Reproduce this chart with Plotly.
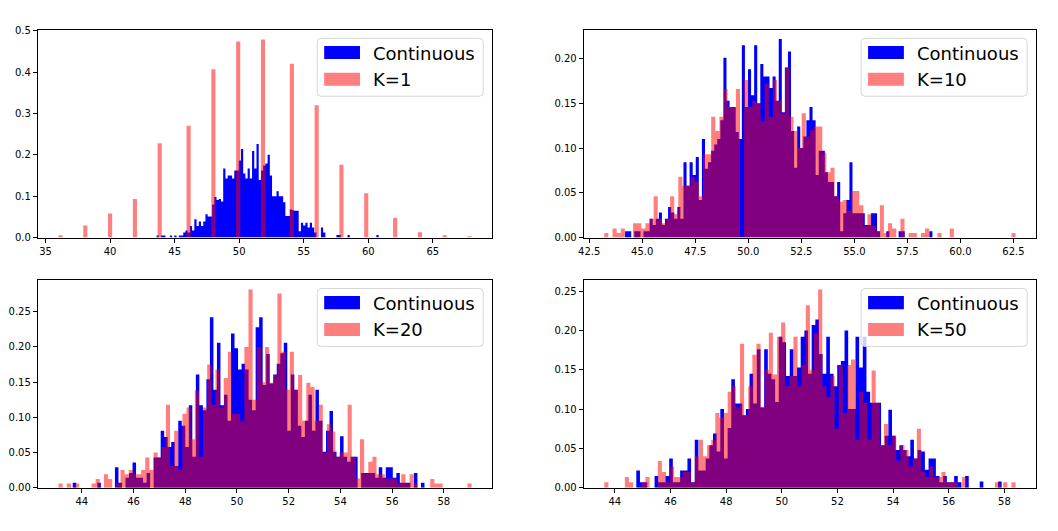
import numpy as np
import plotly.graph_objects as go

W, H = 1058, 531

# --- data: density heights of 100-bin histograms ---

# K=1: the sample means only take even values, so keep them as points
k1_vals = [36, 38, 40, 42, 44, 46, 48, 50, 52, 54, 56, 58, 60, 62, 64, 66, 68]
k1_dens = [0.0055, 0.029, 0.058, 0.093, 0.228, 0.270, 0.407, 0.474, 0.479,
           0.420, 0.320, 0.176, 0.107, 0.048, 0.013, 0.0055, 0.003]
k1_lim = (36.0, 68.0)

cont1 = [0.005, 0, 0.005, 0.005, 0, 0, 0.005, 0, 0.005, 0,
         0.005, 0.005, 0.012, 0.017, 0.012, 0.028, 0.017, 0.044, 0.028, 0.039,
         0.028, 0.039, 0.056, 0.051, 0.051, 0.080, 0.098, 0.091, 0.093, 0.087,
         0.167, 0.143, 0.150, 0.150, 0.143, 0.162, 0.162, 0.186, 0.214, 0.155,
         0.143, 0.167, 0.143, 0.209, 0.167, 0.226, 0.139, 0.162, 0.174, 0.179,
         0.200, 0.150, 0.100, 0.100, 0.112, 0.100, 0.100, 0.085, 0.052, 0.052,
         0.068, 0.066, 0.065, 0.065, 0.015, 0.036, 0.029, 0.036, 0.024, 0.036,
         0.024, 0.012, 0, 0, 0.024, 0.012, 0, 0, 0, 0,
         0, 0.006, 0.006, 0, 0, 0, 0.006, 0, 0, 0,
         0, 0, 0, 0, 0, 0, 0, 0, 0, 0.006]
cont1_lim = (43.6, 60.8)

k10 = [0.005, 0, 0.010, 0.005, 0.010, 0, 0, 0.016, 0.016, 0.010,
       0.016, 0.021, 0.046, 0.021, 0.016, 0.021, 0.046, 0.026, 0.068, 0.058,
       0.058, 0.068, 0.062, 0.046, 0.093, 0.093, 0.135, 0.119, 0.135, 0.166,
       0.146, 0.146, 0.166, 0, 0.176, 0.146, 0.153, 0.150, 0.130, 0.172,
       0.135, 0.176, 0.153, 0.139, 0.190, 0.135, 0.119, 0.100, 0.139, 0.113,
       0.120, 0.124, 0.124, 0.095, 0.073, 0.078, 0.046, 0.040, 0.042, 0.030,
       0.052, 0.052, 0.036, 0.013, 0.026, 0.013, 0.007, 0.036, 0.005, 0.016,
       0.010, 0, 0.021, 0, 0.005, 0.005, 0, 0.005, 0.010, 0,
       0, 0.005, 0, 0, 0.010, 0, 0, 0, 0, 0,
       0, 0, 0, 0, 0, 0, 0, 0, 0, 0.005]
k10_lim = (43.21, 62.6)

cont10 = [0.007, 0.007, 0, 0.007, 0.007, 0, 0.007, 0.007, 0.021, 0.014,
          0.021, 0.028, 0.014, 0.021, 0.034, 0.028, 0.021, 0.034, 0.021, 0.084,
          0.058, 0.084, 0.070, 0.090, 0.042, 0.110, 0.077, 0.084, 0.097, 0.104,
          0.110, 0.131, 0.201, 0.153, 0.146, 0.146, 0.118, 0.110, 0.215, 0.146,
          0.188, 0.159, 0.215, 0.150, 0.194, 0.180, 0.180, 0.167, 0.180, 0.153,
          0.222, 0.140, 0.190, 0.208, 0.119, 0.078, 0.124, 0.100, 0.113, 0.131,
          0.146, 0.131, 0.070, 0.097, 0.097, 0.073, 0.062, 0.062, 0.046, 0.062,
          0.007, 0.027, 0.042, 0.084, 0.027, 0.027, 0.027, 0.027, 0.014, 0.014,
          0.027, 0.027, 0.007, 0, 0, 0.007, 0, 0, 0, 0.007,
          0.007, 0, 0, 0, 0, 0, 0, 0, 0, 0.007]
cont10_lim = (44.19, 58.68)

k20 = [0.006, 0, 0.006, 0, 0.006, 0, 0, 0, 0.006, 0.0125,
       0, 0.019, 0.0125, 0, 0.006, 0.025, 0.019, 0.025, 0.019, 0.019,
       0.025, 0.043, 0.025, 0.050, 0.043, 0.058, 0.118, 0.031, 0.081, 0.025,
       0.105, 0.114, 0.069, 0.138, 0.044, 0.114, 0.175, 0.118, 0.168, 0.114,
       0.156, 0.193, 0.105, 0.105, 0.094, 0.200, 0.2815, 0.125, 0.200, 0.150,
       0.200, 0.149, 0.160, 0.276, 0.193, 0.139, 0.193, 0.139, 0.160, 0.095,
       0.149, 0.143, 0.095, 0.118, 0.050, 0.090, 0.080, 0.044, 0.050, 0.050,
       0.118, 0.044, 0.013, 0.069, 0.020, 0.037, 0.044, 0.019, 0.019, 0.013,
       0.013, 0.013, 0.006, 0.019, 0.006, 0.019, 0.006, 0, 0, 0,
       0.0125, 0.006, 0.006, 0, 0, 0, 0, 0, 0, 0.006]
k20_lim = (43.1, 59.07)

cont20 = [0.007, 0, 0, 0, 0, 0, 0, 0.007, 0, 0,
          0, 0, 0.029, 0.007, 0, 0.014, 0.021, 0.036, 0.014, 0.014,
          0.007, 0.021, 0, 0.043, 0.043, 0.081, 0.072, 0.058, 0.065, 0.031,
          0.095, 0.088, 0.058, 0.117, 0.044, 0.161, 0.117, 0.110, 0.154, 0.242,
          0.139, 0.206, 0.117, 0.132, 0.095, 0.219, 0.198, 0.168, 0.176, 0.168,
          0.125, 0.110, 0.228, 0.242, 0.146, 0.190, 0.148, 0.161, 0.176, 0.191,
          0.206, 0.081, 0.161, 0.139, 0.088, 0.072, 0.095, 0.132, 0.081, 0.139,
          0.095, 0.051, 0.081, 0.109, 0.051, 0.044, 0.073, 0.044, 0.037, 0.044,
          0.044, 0, 0.021, 0.021, 0.021, 0.021, 0.014, 0.029, 0.014, 0.029,
          0.029, 0.014, 0.021, 0.007, 0.007, 0.007, 0, 0.021, 0, 0.007]
cont20_lim = (43.65, 57.25)

k50 = [0.0068, 0, 0, 0, 0, 0.0135, 0.0068, 0, 0, 0.0068,
       0.0135, 0, 0, 0.034, 0.020, 0.007, 0.027, 0.0135, 0.0135, 0.020,
       0.020, 0.0068, 0.040, 0.061, 0.040, 0.054, 0.061, 0.095, 0.089, 0.095,
       0.122, 0.129, 0.102, 0.183, 0.092, 0.129, 0.169, 0.183, 0.103, 0.150,
       0.197, 0.144, 0.192, 0.210, 0.129, 0.142, 0.192, 0.129, 0.156, 0.232,
       0.150, 0.196, 0.252, 0.129, 0.115, 0.142, 0.075, 0.156, 0.095, 0.156,
       0.163, 0.061, 0.122, 0.108, 0.061, 0.149, 0.108, 0.054, 0.081, 0.054,
       0.066, 0.034, 0.054, 0.048, 0.027, 0.037, 0.075, 0.020, 0.0135, 0.027,
       0.0135, 0.0135, 0.020, 0.007, 0.007, 0.007, 0, 0.0135, 0, 0,
       0, 0, 0, 0, 0, 0.007, 0, 0.007, 0, 0.007]
k50_lim = (43.62, 58.4)

cont50 = [0.022, 0.007, 0.007, 0, 0, 0.015, 0.007, 0.007, 0.015, 0.037,
          0.007, 0.007, 0.022, 0.022, 0.037, 0.007, 0.061, 0.022, 0.022, 0.037,
          0.054, 0.069, 0.046, 0.100, 0.037, 0.076, 0.138, 0.107, 0.107, 0.092,
          0.100, 0.145, 0.107, 0.176, 0.102, 0.176, 0.145, 0.138, 0.109, 0.192,
          0.185, 0.142, 0.176, 0.142, 0.153, 0.192, 0.200, 0.145, 0.207, 0.214,
          0.170, 0.145, 0.192, 0.145, 0.129, 0.156, 0.161, 0.200, 0.100, 0.100,
          0.192, 0.153, 0.192, 0.122, 0.108, 0.108, 0.108, 0.054, 0.066, 0.099,
          0.066, 0.048, 0.054, 0.048, 0.040, 0.061, 0.037, 0.048, 0.046, 0.023,
          0.037, 0.037, 0.015, 0.007, 0.015, 0.007, 0.007, 0.015, 0.007, 0,
          0.015, 0, 0, 0, 0.008, 0, 0, 0, 0, 0.008]
cont50_lim = (44.77, 57.9)

NBINS = 100


def edges_of(lim):
    return np.linspace(lim[0], lim[1], NBINS + 1)


# spread the K=1 points into their histogram bins
e1 = edges_of(k1_lim)
w1 = e1[1] - e1[0]
k1 = np.zeros(NBINS)
idx = np.minimum(((np.array(k1_vals) - k1_lim[0]) / w1).astype(int), NBINS - 1)
k1[idx] = k1_dens

# panel: continuous, its limits, K-histogram, its limits, label, axes box in px, ranges
panels = [
    (cont1, cont1_lim, k1, k1_lim, "K=1", (32, 489, 26, 238), [34.4, 69.6], 0.503, 35, 5, ".0f", 0.1, ".1f"),
    (cont10, cont10_lim, k10, k10_lim, "K=10", (581, 1036, 26, 238), [42.24, 63.57], 0.2325, 42.5, 2.5, ".1f", 0.05, ".2f"),
    (cont20, cont20_lim, k20, k20_lim, "K=20", (32, 489, 281, 493), [42.3, 59.87], 0.2955, 44, 2, ".0f", 0.05, ".2f"),
    (cont50, cont50_lim, k50, k50_lim, "K=50", (581, 1036, 281, 493), [42.88, 59.14], 0.2645, 44, 2, ".0f", 0.05, ".2f"),
]

fig = go.Figure()
shapes = []
annotations = []


def px(x):
    return x / W


def py(y):
    return 1 - y / H


def hist_trace(heights, lim, fill, sfx, name):
    # one stepped polygon per histogram, so neighbouring bins leave no seams
    e = edges_of(lim)
    ys = list(heights) + [0]
    return go.Scatter(x=e, y=ys, mode="lines", line=dict(shape="hv", width=0, color=fill),
                      fill="tozeroy", fillcolor=fill, name=name, showlegend=False,
                      hoverinfo="skip", xaxis="x" + sfx, yaxis="y" + sfx)


for n, (cont, clim, kh, klim, label, box, xr, ytop, t0, dt, xf, ydt, yf) in enumerate(panels, start=1):
    sfx = "" if n == 1 else str(n)
    fig.add_trace(hist_trace(cont, clim, "rgb(0,0,255)", sfx, "Continuous"))
    fig.add_trace(hist_trace(kh, klim, "rgba(255,0,0,0.5)", sfx, label))

    x0, x1, y0, y1 = box
    axis_style = dict(showline=True, mirror=True, linecolor="black", linewidth=1,
                      ticks="outside", ticklen=4, tickwidth=1, tickcolor="black",
                      showgrid=False, zeroline=False,
                      tickfont=dict(family="DejaVu Sans", size=10, color="black"))
    fig.layout["xaxis" + sfx] = dict(domain=[px(x0), px(x1)], anchor="y" + sfx,
                                     range=xr, tick0=t0, dtick=dt, tickformat=xf, **axis_style)
    fig.layout["yaxis" + sfx] = dict(domain=[py(y1), py(y0)], anchor="x" + sfx,
                                     range=[0, ytop], tick0=0, dtick=ydt, tickformat=yf, **axis_style)

    # legend box drawn like matplotlib's (rounded frame, wide patches)
    bl, br, bt, bb = x1 - 176, x1 - 9, y0 + 9, y0 + 68
    r = 4
    path = (f"M {px(bl + r)},{py(bt)} L {px(br - r)},{py(bt)} Q {px(br)},{py(bt)} {px(br)},{py(bt + r)} "
            f"L {px(br)},{py(bb - r)} Q {px(br)},{py(bb)} {px(br - r)},{py(bb)} "
            f"L {px(bl + r)},{py(bb)} Q {px(bl)},{py(bb)} {px(bl)},{py(bb - r)} "
            f"L {px(bl)},{py(bt + r)} Q {px(bl)},{py(bt)} {px(bl + r)},{py(bt)} Z")
    shapes.append(dict(type="path", path=path, xref="paper", yref="paper",
                       line=dict(color="#d6d6d6", width=1), fillcolor="rgba(255,255,255,0.8)"))
    shapes.append(dict(type="rect", xref="paper", yref="paper",
                       x0=px(bl + 7), x1=px(bl + 43), y0=py(bt + 21), y1=py(bt + 7.7),
                       fillcolor="blue", line=dict(width=0)))
    shapes.append(dict(type="rect", xref="paper", yref="paper",
                       x0=px(bl + 7), x1=px(bl + 43), y0=py(bt + 48.3), y1=py(bt + 35),
                       fillcolor="red", opacity=0.5, line=dict(width=0)))
    for txt, yy in (("Continuous", bt + 15), (label, bt + 42)):
        annotations.append(dict(text=txt, x=px(bl + 54), y=py(yy), xref="paper", yref="paper",
                                xanchor="left", yanchor="middle", showarrow=False,
                                font=dict(family="DejaVu Sans", size=18, color="black")))

fig.update_layout(width=W, height=H, margin=dict(l=0, r=0, t=0, b=0),
                  plot_bgcolor="white", paper_bgcolor="white",
                  shapes=shapes, annotations=annotations, showlegend=False)

fig.write_html("out.html", config={"displayModeBar": False},
               post_script="document.body.style.margin='0';")
